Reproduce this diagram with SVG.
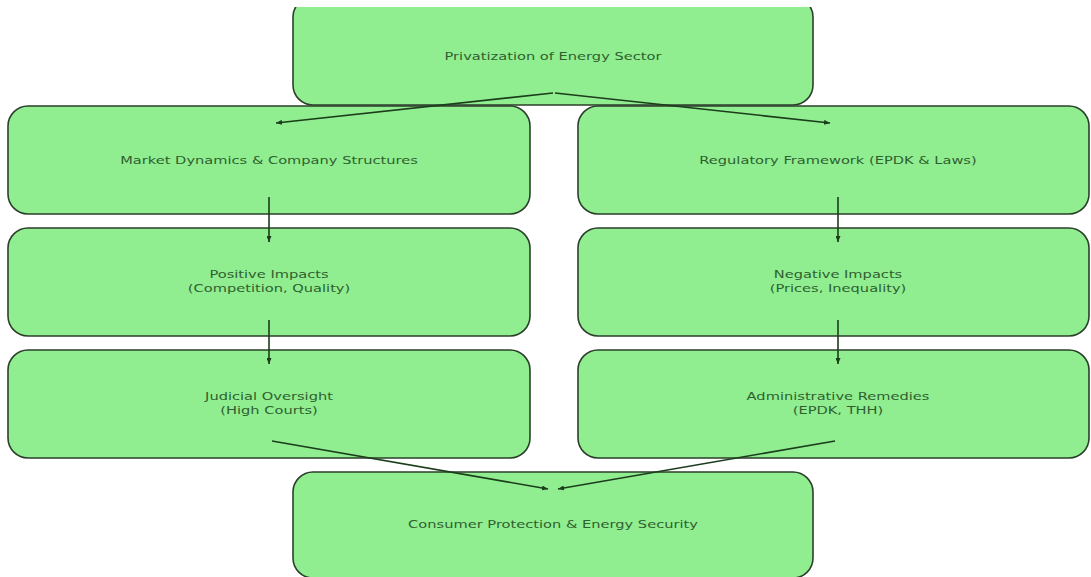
<svg xmlns="http://www.w3.org/2000/svg" width="1091" height="577" viewBox="0 0 1091 577">
  <style>
    .box { fill: #90EE90; stroke: #2b3f2b; stroke-width: 1.6; }
    .lbl { font-family: "DejaVu Sans", "Liberation Sans", sans-serif; font-size: 11px; fill: #2f5f2f; text-anchor: middle; }
    .edge { stroke: #1b3d1b; stroke-width: 1.6; fill: none; marker-end: url(#ah); }
  </style>
  <defs>
    <marker id="ah" markerUnits="userSpaceOnUse" markerWidth="6" markerHeight="5" refX="6" refY="2.5" orient="auto">
      <path d="M0,0 L6,2.5 L0,5 z" fill="#1b3d1b"/>
    </marker>
    <clipPath id="clipTop">
      <rect x="0" y="7" width="1091" height="600"/>
    </clipPath>
  </defs>
  <rect x="0" y="0" width="1091" height="577" fill="#ffffff"/>

  <g id="node-privatization" clip-path="url(#clipTop)">
    <rect class="box" x="293" y="-3" width="520" height="108" rx="20" ry="20"/>
    <text class="lbl" transform="translate(553,60) scale(1.33,1)">Privatization of Energy Sector</text>
  </g>

  <g id="node-market">
    <rect class="box" x="8" y="106" width="522" height="108" rx="20" ry="20"/>
    <text class="lbl" transform="translate(269,164) scale(1.33,1)">Market Dynamics &amp; Company Structures</text>
  </g>

  <g id="node-regulatory">
    <rect class="box" x="578" y="106" width="511" height="108" rx="20" ry="20"/>
    <text class="lbl" transform="translate(838,164) scale(1.33,1)">Regulatory Framework (EPDK &amp; Laws)</text>
  </g>

  <g id="node-positive">
    <rect class="box" x="8" y="228" width="522" height="108" rx="20" ry="20"/>
    <text class="lbl" transform="translate(269,278) scale(1.33,1)"><tspan x="0" dy="0">Positive Impacts</tspan><tspan x="0" dy="14.5">(Competition, Quality)</tspan></text>
  </g>

  <g id="node-negative">
    <rect class="box" x="578" y="228" width="511" height="108" rx="20" ry="20"/>
    <text class="lbl" transform="translate(838,278) scale(1.33,1)"><tspan x="0" dy="0">Negative Impacts</tspan><tspan x="0" dy="14.5">(Prices, Inequality)</tspan></text>
  </g>

  <g id="node-judicial">
    <rect class="box" x="8" y="350" width="522" height="108" rx="20" ry="20"/>
    <text class="lbl" transform="translate(269,400) scale(1.33,1)"><tspan x="0" dy="0">Judicial Oversight</tspan><tspan x="0" dy="14.5">(High Courts)</tspan></text>
  </g>

  <g id="node-administrative">
    <rect class="box" x="578" y="350" width="511" height="108" rx="20" ry="20"/>
    <text class="lbl" transform="translate(838,400) scale(1.33,1)"><tspan x="0" dy="0">Administrative Remedies</tspan><tspan x="0" dy="14.5">(EPDK, THH)</tspan></text>
  </g>

  <g id="node-consumer">
    <rect class="box" x="293" y="472" width="520" height="106" rx="20" ry="20"/>
    <text class="lbl" transform="translate(553,528) scale(1.33,1)">Consumer Protection &amp; Energy Security</text>
  </g>

  <g id="connectors">
    <path class="edge" d="M553,93 L276,123"/>
    <path class="edge" d="M555,93 L830,123"/>
    <path class="edge" d="M269,197 L269,242"/>
    <path class="edge" d="M269,320 L269,364"/>
    <path class="edge" d="M838,197 L838,242"/>
    <path class="edge" d="M838,320 L838,364"/>
    <path class="edge" d="M272,441 L548,489"/>
    <path class="edge" d="M835,441 L558,489"/>
  </g>
</svg>
